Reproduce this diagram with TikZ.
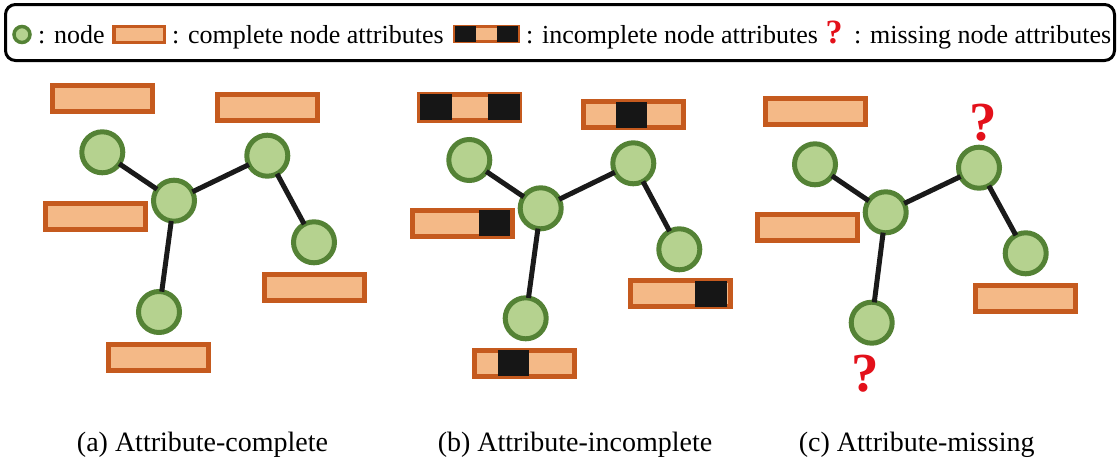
\documentclass[tikz,border=0pt]{standalone}
\usepackage{fontspec}
\setmainfont{Liberation Serif}
\usetikzlibrary{calc}
\definecolor{nodefill}{HTML}{B5D28F}
\definecolor{nodeline}{HTML}{548235}
\definecolor{attrfill}{HTML}{F4B987}
\definecolor{attrline}{HTML}{C55A1E}
\definecolor{blackattr}{HTML}{161616}
\definecolor{qred}{HTML}{E3101A}
\definecolor{edgecol}{HTML}{1A1A1A}
\begin{document}
\begin{tikzpicture}[x=1pt,y=-1pt,
  gnode/.style={circle,draw=nodeline,fill=nodefill,line width=5pt,minimum size=41pt,inner sep=0pt,outer sep=0pt},
  attr/.style={rectangle,draw=attrline,fill=attrfill,line width=5pt,minimum width=100pt,minimum height=26pt,inner sep=0pt,outer sep=0pt},
  blk/.style={fill=blackattr},
  edge/.style={draw=edgecol,line width=5pt},
  miss/.style={text=qred,font=\fontsize{55}{60}\selectfont\bfseries,anchor=base,inner sep=0pt},
  legtext/.style={font=\fontsize{26}{30}\selectfont,anchor=base west,inner sep=0pt},
  captext/.style={font=\fontsize{28}{32}\selectfont,anchor=base,inner sep=0pt},
  lgnode/.style={circle,draw=nodeline,fill=nodefill,line width=3.5pt,minimum size=16pt,inner sep=0pt,outer sep=0pt},
  lattr/.style={rectangle,draw=attrline,fill=attrfill,line width=3.3pt,inner sep=0pt,outer sep=0pt,minimum height=15.5pt},
]
\useasboundingbox (0,0) rectangle (1119,469);

% legend frame
\draw[line width=3pt,rounded corners=10pt] (5.5,4.5) rectangle (1114.5,60.5);
\node[lgnode] (lnode) at (22,34.5) {};
\node[legtext] (lt1) at (38,43) {: node};
\node[lattr,minimum width=50.3pt] (lcomp) at (139.2,34.5) {};
\node[legtext] (lt2) at (172,43) {: complete node attributes};
\node[lattr,minimum width=63.3pt] (linc) at (486.7,34) {};
\fill[blk] (linc.north west) rectangle ($(linc.south west)+(21,0)$);
\fill[blk] ($(linc.north east)+(-21,0)$) rectangle (linc.south east);
\node[legtext] (lt3) at (526,43) {: incomplete node attributes};
\node[text=qred,font=\fontsize{34}{38}\selectfont\bfseries,anchor=base,inner sep=0pt] (lq) at (834,43) {?};
\node[legtext] (lt4) at (854,43) {: missing node attributes};

% (a) attribute-complete graph
\node[attr] (ab1) at (102.2,98.8) {};
\node[attr] (ab2) at (267.2,107) {};
\node[attr] (ab3) at (95.2,216.2) {};
\node[attr] (ab4) at (314.2,287) {};
\node[attr] (ab5) at (158,357.2) {};
\node[gnode] (a1) at (102.3,152.3) {};
\node[gnode] (a0) at (174,200.7) {};
\node[gnode] (a2) at (267.3,155.7) {};
\node[gnode] (a3) at (314,242.3) {};
\node[gnode] (a4) at (159,312) {};
\draw[edge] (a0) -- (a1);
\draw[edge] (a0) -- (a2);
\draw[edge] (a2) -- (a3);
\draw[edge] (a0) -- (a4);
\node[captext] (capa) at (202.5,451) {(a) Attribute-complete};

% (b) attribute-incomplete graph
\node[attr] (bb1) at (469.5,107.2) {};
\fill[blk] (bb1.north west) rectangle ($(bb1.south west)+(32,0)$);
\fill[blk] ($(bb1.north east)+(-32,0)$) rectangle (bb1.south east);
\node[attr] (bb2) at (633.3,114.8) {};
\fill[blk] ($(bb2.north)+(-17,0)$) rectangle ($(bb2.south)+(14,0)$);
\node[attr] (bb3) at (462.5,223.3) {};
\fill[blk] ($(bb3.north)+(16,0)$) rectangle ($(bb3.south)+(47.5,0)$);
\node[attr] (bb4) at (680,293.8) {};
\fill[blk] ($(bb4.north)+(15,0)$) rectangle ($(bb4.south)+(46.5,0)$);
\node[attr] (bb5) at (524.8,363.3) {};
\fill[blk] ($(bb5.north)+(-26.5,0)$) rectangle ($(bb5.south)+(4.5,0)$);
\node[gnode] (b1) at (469.3,160) {};
\node[gnode] (b0) at (540.7,208.3) {};
\node[gnode] (b2) at (633.3,163.3) {};
\node[gnode] (b3) at (679.3,249.3) {};
\node[gnode] (b4) at (525.7,318.3) {};
\draw[edge] (b0) -- (b1);
\draw[edge] (b0) -- (b2);
\draw[edge] (b2) -- (b3);
\draw[edge] (b0) -- (b4);
\node[captext] (capb) at (575,451) {(b) Attribute-incomplete};

% (c) attribute-missing graph
\node[attr] (cb1) at (815,111.2) {};
\node[attr] (cb3) at (807.8,227.8) {};
\node[attr] (cb4) at (1025.8,298) {};
\node[gnode] (c1) at (815,164.3) {};
\node[gnode] (c0) at (885.7,212.3) {};
\node[gnode] (c2) at (979,167.7) {};
\node[gnode] (c3) at (1025.7,253.3) {};
\node[gnode] (c4) at (871.7,322.7) {};
\draw[edge] (c0) -- (c1);
\draw[edge] (c0) -- (c2);
\draw[edge] (c2) -- (c3);
\draw[edge] (c0) -- (c4);
\node[miss] (cq2) at (983.3,140) {?};
\node[miss] (cq4) at (865.7,391.7) {?};
\node[captext] (capc) at (916.7,451) {(c) Attribute-missing};
\end{tikzpicture}
\end{document}
